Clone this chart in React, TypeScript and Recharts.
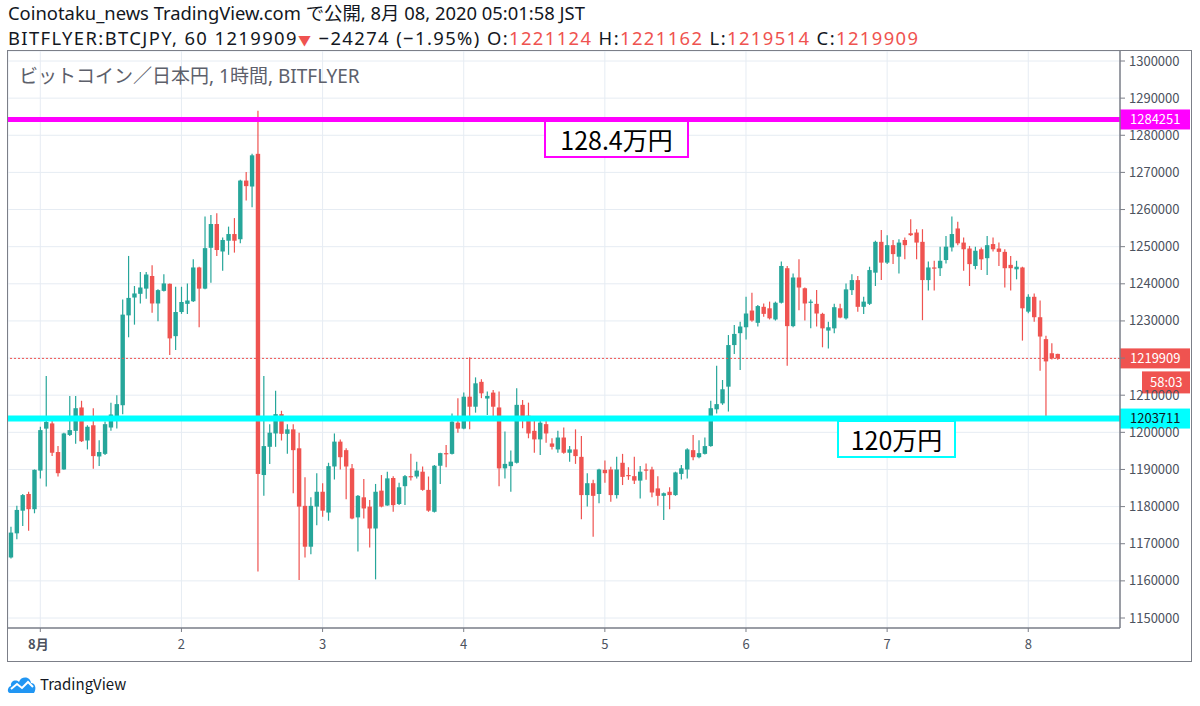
import React from 'react';
import { ComposedChart, Bar, XAxis, YAxis, CartesianGrid, ReferenceLine } from 'recharts';

const FONT = '"Noto Sans CJK JP", "Noto Sans", sans-serif';
const HEAD_FONT = '"Noto Sans", "Noto Sans CJK JP", sans-serif';

// Hourly candles, BITFLYER BTCJPY (JST), from 7/31 19:00 to 8/08 05:00
const opens = [
  1166300, 1172800, 1178900, 1183400, 1179300, 1189700, 1201000, 1202400, 1194700, 1190000,
  1199300, 1200400, 1206700, 1197800, 1201900, 1193500, 1194200, 1201300, 1204400, 1207300,
  1231500, 1236300, 1237300, 1238700, 1242100, 1234700, 1238100, 1240000, 1225900, 1232400,
  1234600, 1235300, 1244400, 1238700, 1249700, 1256100, 1248700, 1251600, 1253400, 1252000,
  1267800, 1266200, 1275000, 1188500, 1196100, 1199700, 1204900, 1199600, 1200800, 1195700,
  1180200, 1169200, 1180000, 1184000, 1178400, 1190800, 1197500, 1195200, 1190300, 1177100,
  1182500, 1180000, 1174100, 1184300, 1180300, 1187700, 1180700, 1185500, 1188200, 1188100,
  1189400, 1184500, 1178600, 1191000, 1194400, 1194200, 1202600, 1201000, 1209600, 1206900,
  1213600, 1209100, 1210700, 1206700, 1190300, 1190900, 1191800, 1207400, 1204500, 1200400,
  1198100, 1202200, 1197000, 1195400, 1198600, 1194500, 1195400, 1193400, 1183100, 1186300,
  1183400, 1189900, 1190000, 1183100, 1191800, 1188500, 1188200, 1187000, 1190000, 1190000,
  1184900, 1182900, 1184000, 1183100, 1188800, 1190000, 1195200, 1193300, 1194200, 1196300,
  1206200, 1207800, 1212300, 1223500, 1226700, 1228300, 1232800, 1229500, 1233800, 1233400,
  1230400, 1234900, 1244200, 1228600, 1241700, 1238800, 1234900, 1234600, 1231900, 1227400,
  1228000, 1233400, 1230700, 1238300, 1241000, 1233800, 1234600, 1243000, 1251300, 1245700,
  1250400, 1247300, 1251800, 1253600, 1253800, 1251300, 1241000, 1244400, 1244200, 1246400,
  1249800, 1254900, 1251100, 1249500, 1244800, 1249300, 1246900, 1250700, 1249500, 1248600,
  1245100, 1243900, 1244400, 1232500, 1236500, 1231000, 1225100, 1221300, 1221124,
];

const highs = [
  1174600, 1180200, 1183400, 1184000, 1190000, 1201500, 1215200, 1203300, 1196300, 1199900,
  1209800, 1209800, 1208500, 1201900, 1206500, 1197900, 1202900, 1208000, 1210000, 1235800,
  1247500, 1239400, 1243200, 1243200, 1245000, 1238500, 1242600, 1240100, 1239200, 1239200,
  1240100, 1246600, 1244600, 1258100, 1258500, 1259000, 1252500, 1255400, 1257700, 1268000,
  1270100, 1275000, 1286600, 1215200, 1202200, 1211200, 1205800, 1202200, 1202200, 1199900,
  1187900, 1182500, 1189000, 1186300, 1191800, 1199700, 1198100, 1195700, 1191500, 1183100,
  1187400, 1181800, 1186100, 1188500, 1189400, 1188200, 1186400, 1188500, 1194200, 1192100,
  1190800, 1188100, 1191200, 1194500, 1196600, 1205100, 1209200, 1210700, 1220200, 1214800,
  1214300, 1211000, 1211400, 1211000, 1200200, 1195100, 1211900, 1208700, 1208000, 1203300,
  1203300, 1203100, 1198400, 1200400, 1201300, 1196300, 1200800, 1199000, 1189000, 1187200,
  1190200, 1192400, 1190700, 1193400, 1194200, 1190600, 1193400, 1190900, 1191600, 1190700,
  1188200, 1183800, 1185200, 1189400, 1191200, 1195700, 1199300, 1197900, 1198600, 1208500,
  1217900, 1214100, 1226200, 1228900, 1229800, 1236500, 1237600, 1234300, 1234700, 1235200,
  1235200, 1246000, 1244800, 1242800, 1246600, 1239000, 1235800, 1238300, 1232200, 1229800,
  1234600, 1234600, 1240100, 1242600, 1242100, 1236500, 1244600, 1251600, 1254500, 1253100,
  1251800, 1252000, 1252500, 1257400, 1254700, 1254700, 1246000, 1246200, 1250000, 1252900,
  1258100, 1256700, 1252500, 1250200, 1250000, 1249800, 1252900, 1252500, 1251100, 1249300,
  1247500, 1246200, 1244600, 1237200, 1237400, 1235500, 1226000, 1224000, 1221162,
];

const lows = [
  1166000, 1171200, 1174800, 1173500, 1178200, 1187600, 1185400, 1193600, 1188100, 1189900,
  1199000, 1196900, 1197400, 1195400, 1190200, 1190900, 1193900, 1200400, 1201000, 1204900,
  1225600, 1229000, 1234700, 1236000, 1232200, 1229900, 1237900, 1220800, 1222200, 1231900,
  1231900, 1235100, 1228300, 1238500, 1240300, 1247500, 1243500, 1247800, 1248400, 1250900,
  1262400, 1260600, 1162500, 1182900, 1191500, 1196100, 1197800, 1194200, 1183600, 1160200,
  1166300, 1167200, 1175000, 1177300, 1176200, 1187300, 1190000, 1182000, 1176600, 1167900,
  1176800, 1169000, 1160400, 1179800, 1180200, 1178600, 1180400, 1180400, 1187000, 1187600,
  1184300, 1178600, 1178400, 1186100, 1190600, 1194000, 1199900, 1200800, 1200800, 1205300,
  1209200, 1204700, 1204400, 1185500, 1187600, 1184000, 1191600, 1201100, 1198400, 1194500,
  1193900, 1197200, 1195400, 1194500, 1194200, 1192100, 1191500, 1176600, 1180000, 1171900,
  1180900, 1186400, 1181300, 1182200, 1185800, 1187200, 1186100, 1182200, 1187200, 1182500,
  1180200, 1176400, 1179300, 1182900, 1187300, 1187600, 1192500, 1193000, 1194000, 1196100,
  1205100, 1207400, 1205600, 1221100, 1216800, 1225000, 1229800, 1228500, 1231100, 1230400,
  1230100, 1234700, 1217900, 1228300, 1232900, 1230100, 1228000, 1228500, 1222900, 1222600,
  1226700, 1230700, 1230400, 1237000, 1232500, 1231900, 1234300, 1239400, 1241000, 1245300,
  1245300, 1242800, 1246600, 1252900, 1246600, 1230200, 1238200, 1238200, 1242100, 1245500,
  1248700, 1250400, 1243500, 1239400, 1243900, 1243700, 1242400, 1248700, 1244800, 1239000,
  1238200, 1241200, 1224700, 1232100, 1229800, 1216600, 1203711, 1219600, 1219514,
];

const closes = [
  1173000, 1179100, 1183100, 1179300, 1189900, 1200600, 1202800, 1194500, 1189000, 1199700,
  1200600, 1206500, 1197600, 1201500, 1193600, 1194700, 1202200, 1204800, 1207600, 1231700,
  1236200, 1237400, 1239000, 1242500, 1234700, 1238300, 1240100, 1225300, 1232400, 1235100,
  1235500, 1244400, 1238700, 1249600, 1256100, 1249100, 1251800, 1253400, 1251600, 1267800,
  1266300, 1274600, 1188800, 1196300, 1199900, 1204900, 1199600, 1200800, 1195200, 1180000,
  1169200, 1180200, 1184000, 1178900, 1190900, 1197500, 1193300, 1190800, 1176800, 1182900,
  1179500, 1174100, 1184000, 1180000, 1187600, 1180400, 1185200, 1188200, 1187900, 1189700,
  1184500, 1178900, 1191000, 1194400, 1194200, 1202900, 1201000, 1209600, 1206900, 1213200,
  1210500, 1209800, 1206900, 1190300, 1191500, 1192100, 1207400, 1204400, 1199700, 1198100,
  1202600, 1199700, 1196100, 1198600, 1194500, 1195400, 1193600, 1183100, 1186300, 1182900,
  1190000, 1189000, 1183100, 1190000, 1188000, 1188200, 1187000, 1189400, 1189700, 1183800,
  1182900, 1183600, 1183100, 1189200, 1190300, 1195400, 1193300, 1194400, 1196300, 1206500,
  1207600, 1211600, 1223500, 1226500, 1228500, 1232000, 1230100, 1234000, 1231900, 1230700,
  1234900, 1244800, 1228600, 1241700, 1239000, 1234700, 1235200, 1232000, 1228000, 1228300,
  1233700, 1230900, 1238500, 1241000, 1233800, 1235200, 1243700, 1251300, 1245700, 1250400,
  1248000, 1251100, 1250400, 1253100, 1251100, 1241000, 1244400, 1244100, 1246200, 1250000,
  1253400, 1250900, 1249300, 1245300, 1248900, 1246600, 1250400, 1249300, 1248600, 1244200,
  1244200, 1244600, 1233400, 1236500, 1231000, 1225800, 1219100, 1219900, 1219909,
];

const dayTickIndex = [5, 29, 53, 77, 101, 125, 149, 173];
const dayLabels = ['8月', '2', '3', '4', '5', '6', '7', '8'];

const priceTicks = [
  1150000, 1160000, 1170000, 1180000, 1190000, 1200000, 1210000, 1220000,
  1230000, 1240000, 1250000, 1260000, 1270000, 1280000, 1290000, 1300000,
];

const resistanceLevel = 1284251;
const supportLevel = 1203711;
const lastPrice = 1219909;
const countdown = '58:03';
const resistanceNote = '128.4万円';
const supportNote = '120万円';

const UP = '#26a69a';
const DOWN = '#ef5350';

const candles = opens.map((o, i) => ({
  i,
  open: o,
  high: highs[i],
  low: lows[i],
  close: closes[i],
  range: [lows[i], highs[i]],
}));

const Candle = (props: any) => {
  const { x, y, width, height } = props;
  const d = props.payload ?? props;
  const { open, close, high, low } = d;
  const top0 = Math.min(y, y + height);
  const h = Math.abs(height);
  const cx = x + width / 2;
  const k = high === low ? 0 : h / (high - low);
  const yOf = (v: number) => top0 + (high - v) * k;
  const color = close >= open ? UP : DOWN;
  const bTop = yOf(Math.max(open, close));
  const bBot = yOf(Math.min(open, close));
  return (
    <g>
      <line x1={cx} x2={cx} y1={top0} y2={top0 + h} stroke={color} strokeWidth={1.2} />
      <rect x={cx - 2.2} y={bTop} width={4.4} height={Math.max(1.2, bBot - bTop)} fill={color} />
    </g>
  );
};

const DayTick = (props: any) => {
  const { x, y, payload } = props;
  const idx = dayTickIndex.indexOf(payload.value);
  const label = idx >= 0 ? dayLabels[idx] : '';
  return (
    <text
      x={idx === 0 ? x - 2 : x}
      y={y}
      dy={15}
      textAnchor="middle"
      fontSize={13}
      fontFamily={FONT}
      fill="#4c525e"
      fontWeight={idx === 0 ? 700 : 400}
    >
      {label}
    </text>
  );
};

const PriceTick = (props: any) => {
  const { x, y, payload } = props;
  if (payload.value === 1220000) return <g />;
  return (
    <text x={x} y={y} dy={4.5} textAnchor="start" fontSize={13} fontFamily={FONT} fill="#4c525e">
      {payload.value}
    </text>
  );
};

const makeTag = (text: string, bg: string, fg: string, extra?: string) => (props: any) => {
  const vb = props.viewBox || {};
  const x0 = (vb.x ?? 8) + (vb.width ?? 1112);
  const yc = vb.y ?? 0;
  return (
    <g>
      <rect x={x0} y={yc - 10} width={70} height={20} fill={bg} />
      <text x={x0 + 10} y={yc} dy={4.5} fontSize={13} fontFamily={FONT} fill={fg}>
        {text}
      </text>
      {extra ? (
        <g>
          <rect x={x0 + 22} y={yc + 13} width={48} height={22} fill={bg} />
          <text x={x0 + 30} y={yc + 24} dy={4.5} fontSize={13} fontFamily={FONT} fill={fg}>
            {extra}
          </text>
        </g>
      ) : null}
    </g>
  );
};

const CloudLogo = () => (
  <svg width={30} height={20} style={{ position: 'absolute', left: 7, top: 674 }} viewBox="0 0 30 20">
    <path
      d="M3 19 C0 19 0 13 4 12 C3 7 9 5 12 8 C14 2 23 2 24 9 C28 9 30 14 27 19 Z"
      fill="#2196f3"
    />
    <polyline points="4,15 10,10 15,14 21,8 26,13" fill="none" stroke="#ffffff" strokeWidth={2} />
  </svg>
);

export default function App() {
  return (
    <div style={{ position: 'absolute', left: 0, top: 0, width: 1200, height: 706, background: '#fff', fontFamily: FONT }}>
      <div style={{ position: 'absolute', left: 8, top: 1, fontFamily: HEAD_FONT, fontSize: 18.4, lineHeight: '23px', color: '#131722', whiteSpace: 'nowrap' }}>
        Coinotaku_news TradingView.com で公開, 8月 08, 2020 05:01:58 JST
      </div>
      <div style={{ position: 'absolute', left: 8, top: 26, fontFamily: HEAD_FONT, fontSize: 18.4, lineHeight: '23px', color: '#131722', whiteSpace: 'nowrap', letterSpacing: '1.4px' }}>
        BITFLYER:BTCJPY, 60 1219909<span style={{ color: DOWN, fontSize: 13 }}>▼</span> −24274 (−1.95%) O:
        <span style={{ color: DOWN }}>1221124</span> H:<span style={{ color: DOWN }}>1221162</span> L:
        <span style={{ color: DOWN }}>1219514</span> C:<span style={{ color: DOWN }}>1219909</span>
      </div>

      <div style={{ position: 'absolute', left: 0, top: 0 }}>
        <ComposedChart
          width={1200}
          height={706}
          data={candles}
          margin={{ top: 51, right: 8, bottom: 44, left: 8 }}
        >
          <CartesianGrid stroke="#e6ecf3" strokeWidth={1} />
          <XAxis
            dataKey="i"
            type="number"
            domain={[-0.494, 188.6]}
            allowDataOverflow
            ticks={dayTickIndex}
            interval={0}
            height={34}
            tick={<DayTick />}
            tickSize={4}
            tickMargin={2}
            axisLine={{ stroke: '#7c7f88', strokeWidth: 1.5 }}
            tickLine={{ stroke: '#7c7f88' }}
          />
          <YAxis
            orientation="right"
            type="number"
            domain={[1147307, 1302693]}
            allowDataOverflow
            ticks={priceTicks}
            interval={0}
            width={72}
            tick={<PriceTick />}
            tickSize={5}
            tickMargin={4}
            axisLine={{ stroke: '#7c7f88', strokeWidth: 1.5 }}
            tickLine={{ stroke: '#7c7f88' }}
          />
          <Bar dataKey="range" barSize={4} shape={<Candle />} isAnimationActive={false} />
          <ReferenceLine
            y={lastPrice}
            stroke={DOWN}
            strokeWidth={1}
            strokeDasharray="2 2"
            label={makeTag(String(lastPrice), DOWN, '#ffffff', countdown)}
          />
          <ReferenceLine
            y={resistanceLevel}
            stroke="#ff00ff"
            strokeWidth={5}
            label={makeTag(String(resistanceLevel), '#ff00ff', '#ffffff')}
          />
          <ReferenceLine
            y={supportLevel}
            stroke="#00ffff"
            strokeWidth={6}
            label={makeTag(String(supportLevel), '#00ffff', '#131722')}
          />
        </ComposedChart>
      </div>

      <div style={{ position: 'absolute', left: 19, top: 64, fontFamily: HEAD_FONT, fontSize: 19, lineHeight: '24px', color: '#5d606b', whiteSpace: 'nowrap' }}>
        ビットコイン／日本円, 1時間, BITFLYER
      </div>

      <div
        style={{
          position: 'absolute', left: 544, top: 120, width: 145, height: 38, boxSizing: 'border-box',
          border: '2px solid #ff00ff', background: '#fff', fontSize: 25, lineHeight: '34px',
          textAlign: 'center', color: '#000',
        }}
      >
        {resistanceNote}
      </div>
      <div
        style={{
          position: 'absolute', left: 837, top: 420, width: 119, height: 38, boxSizing: 'border-box',
          border: '2px solid #00ffff', background: '#fff', fontSize: 25, lineHeight: '34px',
          textAlign: 'center', color: '#000',
        }}
      >
        {supportNote}
      </div>

      <div
        style={{
          position: 'absolute', left: 7, top: 50, width: 1185, height: 612, boxSizing: 'border-box',
          border: '1.5px solid #7c7f88', pointerEvents: 'none',
        }}
      />

      <CloudLogo />
      <div style={{ position: 'absolute', left: 40, top: 674, fontSize: 15, lineHeight: '20px', color: '#131722' }}>
        TradingView
      </div>
    </div>
  );
}
